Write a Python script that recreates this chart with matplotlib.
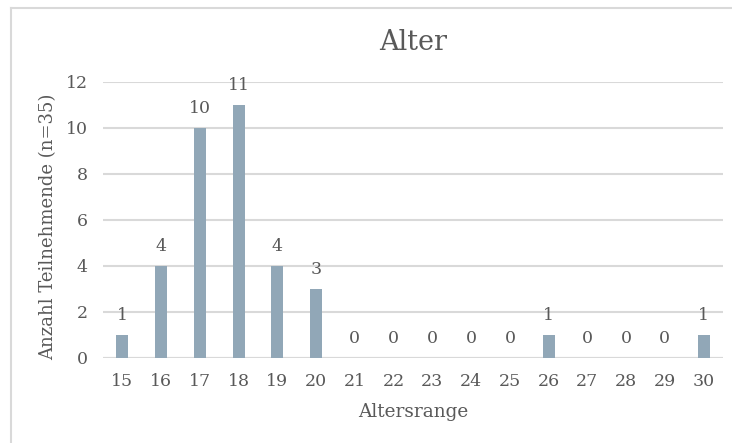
import matplotlib
matplotlib.use("Agg")
import matplotlib.pyplot as plt
from matplotlib.lines import Line2D

categories = ["15", "16", "17", "18", "19", "20", "21", "22", "23", "24", "25", "26", "27", "28", "29", "30"]
values = [1, 4, 10, 11, 4, 3, 0, 0, 0, 0, 0, 1, 0, 0, 0, 1]
yticks = [0, 2, 4, 6, 8, 10, 12]

plt.rcParams['font.family'] = ['DejaVu Serif']
TXT = '#595959'
GRID = '#D9D9D9'
BAR = '#91A7B7'

W, H = 732, 443
fig = plt.figure(figsize=(W / 100, H / 100), dpi=100)
fig.patch.set_facecolor('white')

# chart border
fig.add_artist(Line2D([10.5 / W, 10.5 / W], [0, 1 - 7.5 / H], color=GRID, lw=1.5, transform=fig.transFigure))
fig.add_artist(Line2D([10.5 / W, 1], [1 - 7.5 / H, 1 - 7.5 / H], color=GRID, lw=1.5, transform=fig.transFigure))

ax = fig.add_axes([103 / W, 85 / H, 620 / W, 276 / H])
x = list(range(len(categories)))
ax.bar(x, values, width=0.31, color=BAR, zorder=3)
ax.set_xlim(-0.5, len(categories) - 0.5)
ax.set_ylim(0, 12)
ax.set_yticks(yticks)
ax.set_xticks(x)
ax.set_xticklabels(categories)
ax.yaxis.grid(True, color=GRID, lw=1.5, zorder=0)
ax.set_axisbelow(True)
for s in ax.spines.values():
    s.set_visible(False)
ax.tick_params(axis='both', length=0, colors=TXT, labelsize=12.5)
ax.tick_params(axis='x', pad=11)
ax.tick_params(axis='y', pad=11)
ax.axhline(0, color=GRID, lw=1.5, zorder=2)

for xi, v in zip(x, values):
    ax.annotate(str(v), (xi, v), xytext=(0, 8), textcoords='offset points',
                ha='center', va='bottom', color=TXT, fontsize=12.5)

ax.set_title('Alter', color=TXT, fontsize=19.5, pad=23)
ax.set_xlabel('Altersrange', color=TXT, fontsize=13.3, labelpad=9)
ax.set_ylabel('Anzahl Teilnehmende (n=35)', color=TXT, fontsize=13)
ax.yaxis.set_label_coords(-(103 - 57) / 620, (443 - 227 - 85) / 276)

fig.savefig('out.png', dpi=100, facecolor='white')
